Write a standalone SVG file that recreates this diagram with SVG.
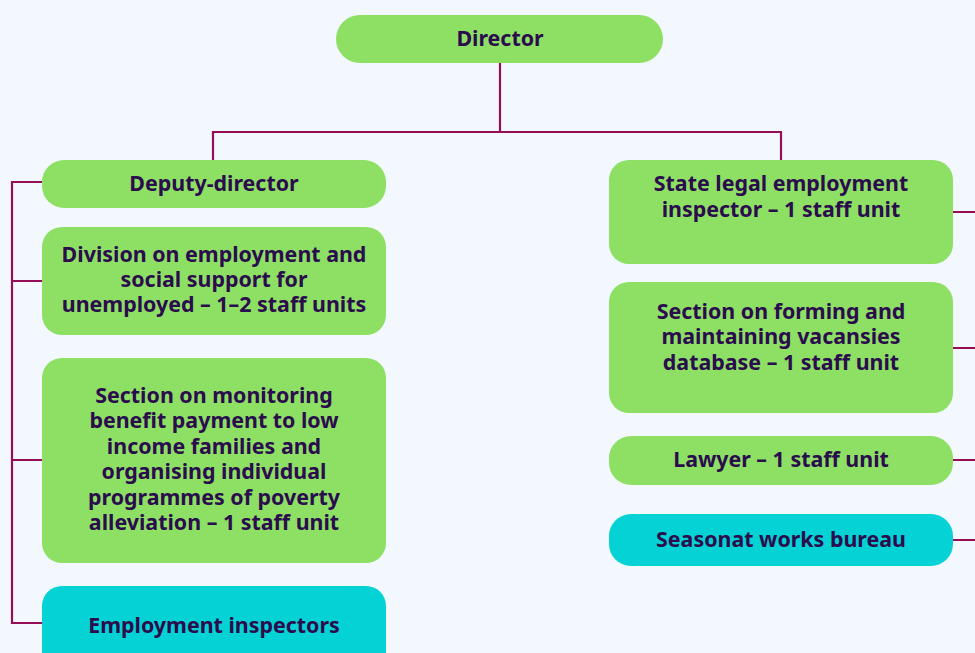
<svg xmlns="http://www.w3.org/2000/svg" width="975" height="653" viewBox="0 0 975 653">
<style>
.g{fill:#8ee065}
.c{fill:#05d2d4}
text{font-family:"Noto Sans","Open Sans","DejaVu Sans",sans-serif;font-weight:bold;font-size:21.4px;fill:#2b0c4d;text-anchor:middle}
.ln{fill:none;stroke:#960d5a;stroke-width:2.2}
</style>
<rect width="975" height="653" fill="#f3f8fe"/>
<g id="connectors">
<path class="ln" d="M500 63V132M213 160V132H781V160"/>
<path class="ln" d="M42 182H12V623H42M12 281H42M12 460H42"/>
<path class="ln" d="M953 212H975M953 348H975M953 460H975M953 540H975"/>
</g>
<g id="director"><rect class="g" x="336" y="15" width="327" height="48" rx="24"/><text x="500" y="46">Director</text></g>
<g id="deputy"><rect class="g" x="42" y="160" width="344" height="48" rx="22"/><text x="214" y="191">Deputy-director</text></g>
<g id="division"><rect class="g" x="42" y="227" width="344" height="108" rx="20"/><text x="214" y="262">Division on employment and</text><text x="214" y="287">social support for</text><text x="214" y="312">unemployed – 1–2 staff units</text></g>
<g id="monitoring"><rect class="g" x="42" y="358" width="344" height="205" rx="20"/><text x="214" y="403">Section on monitoring</text><text x="214" y="428">benefit payment to low</text><text x="214" y="454">income families and</text><text x="214" y="479">organising individual</text><text x="214" y="505">programmes of poverty</text><text x="214" y="530">alleviation – 1 staff unit</text></g>
<g id="inspectors"><rect class="c" x="42" y="586" width="344" height="90" rx="20"/><text x="214" y="633">Employment inspectors</text></g>
<g id="legal"><rect class="g" x="609" y="160" width="344" height="104" rx="20"/><text x="781" y="191">State legal employment</text><text x="781" y="217">inspector – 1 staff unit</text></g>
<g id="vacancies"><rect class="g" x="609" y="282" width="344" height="131" rx="20"/><text x="781" y="319">Section on forming and</text><text x="781" y="344">maintaining vacansies</text><text x="781" y="370">database – 1 staff unit</text></g>
<g id="lawyer"><rect class="g" x="609" y="436" width="344" height="49" rx="22"/><text x="781" y="467">Lawyer – 1 staff unit</text></g>
<g id="seasonal"><rect class="c" x="609" y="514" width="344" height="52" rx="22"/><text x="781" y="547">Seasonat works bureau</text></g>
</svg>
